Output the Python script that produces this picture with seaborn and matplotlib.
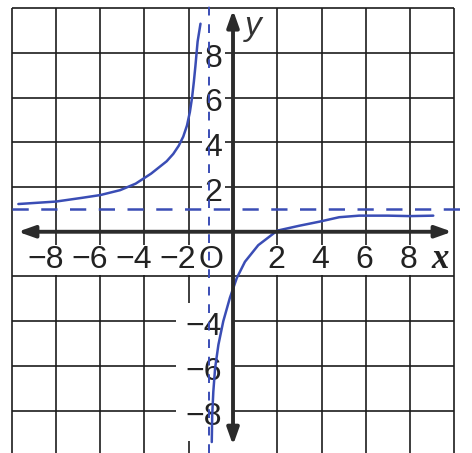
import matplotlib
matplotlib.use("Agg")
import matplotlib.pyplot as plt
import pandas as pd
import seaborn as sns

# Samples along the two branches of the curve
left_x = [-9.7, -8.0, -6.8, -6.0, -5.1, -4.4, -3.7, -3.0, -2.7, -2.45, -2.25,
          -2.08, -1.95, -1.85, -1.77, -1.7, -1.6, -1.47]
left_y = [1.24, 1.35, 1.52, 1.64, 1.86, 2.15, 2.6, 3.15, 3.48, 3.85, 4.25,
          4.75, 5.35, 6.0, 6.7, 7.4, 8.5, 9.3]
right_x = [-0.96, -0.94, -0.89, -0.81, -0.66, -0.44, -0.14, 0.17, 0.54, 1.14,
           2.0, 3.0, 3.9, 4.8, 5.7, 7.0, 8.0, 9.05]
right_y = [-9.4, -8.2, -7.15, -6.1, -5.05, -4.0, -2.95, -2.07, -1.34, -0.6,
           0.05, 0.27, 0.45, 0.65, 0.72, 0.72, 0.70, 0.72]

# Asymptotes
asym_x = -1.1
asym_y = 1.0

# Axis tick labels
x_ticks = [-8, -6, -4, -2, 2, 4, 6, 8]
y_ticks = [8, 6, 4, 2, -4, -6, -8]
grid_vals = [-10, -8, -6, -4, -2, 2, 4, 6, 8, 10]

sns.set_theme(style="white")
plt.rcParams["font.family"] = ["Liberation Sans Narrow", "Liberation Sans", "DejaVu Sans"]

fig = plt.figure(figsize=(4.72, 4.53), dpi=100)
ax = fig.add_axes([0, 0, 1, 1])
ax.set_xlim(-10.53, 10.80)
ax.set_ylim(-9.89, 10.36)
ax.axis("off")

grid_c = "#1c1c1c"
blue = "#3a4db5"
axis_c = "#2b2b2b"

# square grid, 2 units per cell
for g in grid_vals:
    ax.plot([g, g], [-10, 10], color=grid_c, lw=1.2, zorder=1, solid_capstyle="butt")
    ax.plot([-10, 10], [g, g], color=grid_c, lw=1.2, zorder=1, solid_capstyle="butt")

fs = 23
label_kw = dict(fontsize=fs, color="#222222", zorder=2)

# x tick labels (digit centred on the grid line, minus sign to its left)
for t in x_ticks:
    s = str(t).replace("-", "\u2212")
    ax.text(t + 0.34, -1.6, s, ha="right", va="baseline",
            bbox=dict(boxstyle="square,pad=0.0", fc="white", ec="none"), **label_kw)
ax.text(-1.0, -1.6, "O", ha="center", va="baseline",
        bbox=dict(boxstyle="square,pad=0.0", fc="white", ec="none"), **label_kw)

# y tick labels
for t in y_ticks:
    s = str(t).replace("-", "\u2212")
    pad = 0.08 if t > 0 else 0.3
    ax.text(-0.5, t - 0.62, s, ha="right", va="baseline",
            bbox=dict(boxstyle=f"square,pad={pad}", fc="white", ec="none"), **label_kw)

# axis names
ax.text(9.36, -1.6, "x", ha="center", va="baseline", fontsize=25,
        family=["Liberation Serif", "DejaVu Serif"], style="italic",
        fontweight="bold", color="#222222", zorder=2)
ax.text(0.9, 8.8, "y", ha="center", va="baseline", fontsize=24,
        family=["Liberation Sans", "DejaVu Sans"], style="italic",
        color="#333333", zorder=2)

# asymptotes
ax.plot([-10, 10.8], [asym_y, asym_y], color=blue, lw=1.8,
        linestyle=(0, (6.5, 5)), zorder=3)
ax.plot([asym_x, asym_x], [-9.89, 10.36], color=blue, lw=1.4,
        linestyle=(0, (4.5, 4.5)), zorder=3)

# curve branches
left = pd.DataFrame({"x": left_x, "y": left_y})
right = pd.DataFrame({"x": right_x, "y": right_y})
sns.lineplot(data=left, x="x", y="y", ax=ax, color=blue, lw=1.8,
             sort=False, estimator=None, zorder=3)
sns.lineplot(data=right, x="x", y="y", ax=ax, color=blue, lw=1.8,
             sort=False, estimator=None, zorder=3)

# coordinate axes with arrowheads at both ends
arrow = dict(arrowstyle="<|-|>,head_length=0.45,head_width=0.16", lw=2.8,
             color=axis_c, mutation_scale=22, shrinkA=0, shrinkB=0)
ax.annotate("", xy=(9.9, 0), xytext=(-9.72, 0), arrowprops=arrow, zorder=4)
ax.annotate("", xy=(0, 9.91), xytext=(0, -9.54), arrowprops=arrow, zorder=4)

fig.savefig("out.png", dpi=100)
